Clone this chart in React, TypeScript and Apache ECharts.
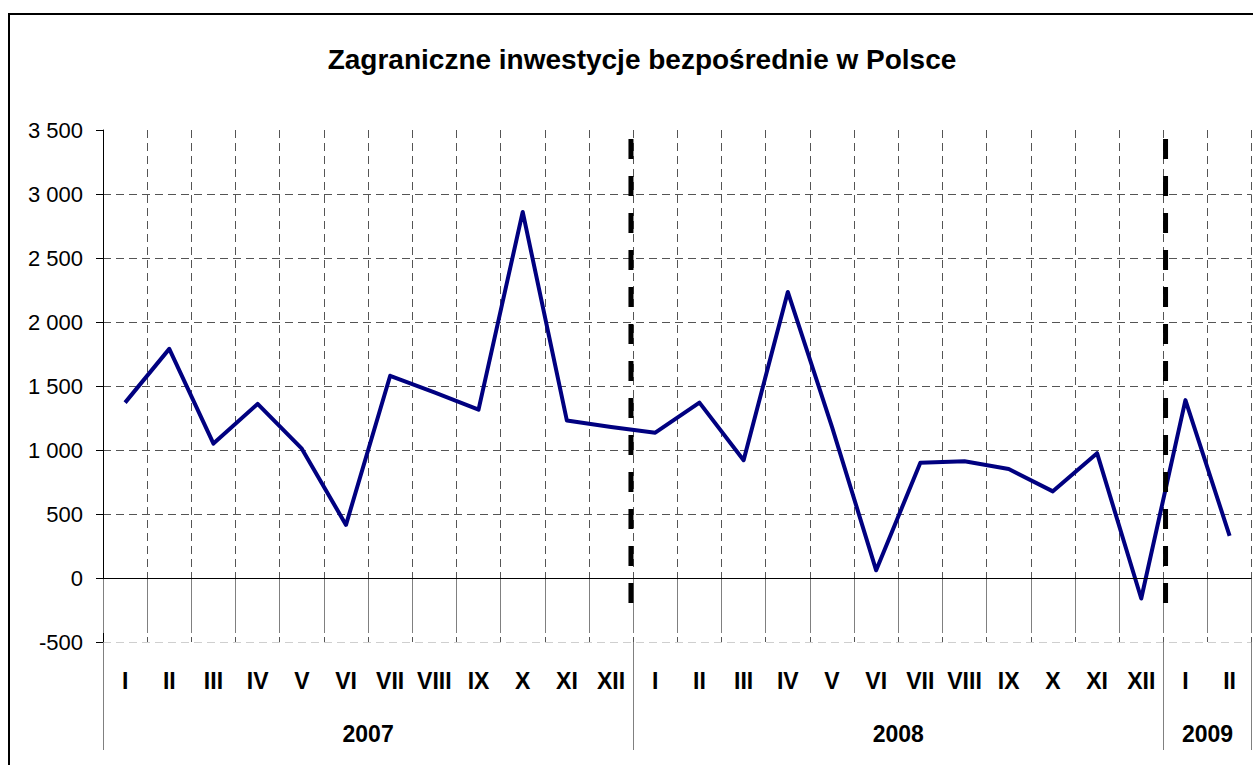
import React, { useEffect, useRef } from "react";
import * as echarts from "echarts";

const TITLE = "Zagraniczne inwestycje bezpośrednie w Polsce";
const years = ["2007", "2008", "2009"];
const monthsPerYear = [12, 12, 2];
const monthNames = ["I", "II", "III", "IV", "V", "VI", "VII", "VIII", "IX", "X", "XI", "XII"];

const values2007 = [1370, 1790, 1050, 1360, 1010, 415, 1580, 1450, 1315, 2860, 1230, 1180];
const values2008 = [1135, 1370, 920, 2235, 1180, 60, 900, 912, 852, 677, 975, -160];
const values2009 = [1390, 330];

const yTicks = { min: -500, max: 3500, interval: 500 };
// thick dashed year separators (x in month units, y range in data units)
const separatorX = [11.95, 24.05];
const separatorTop = 3430;
const separatorBottom = -240;

const FONT = "'Liberation Sans', Arial, sans-serif";

export default function App() {
  const ref = useRef<HTMLDivElement>(null);

  useEffect(() => {
    if (!ref.current) return;
    const chart = echarts.init(ref.current, undefined, { renderer: "svg" });

    const categories: string[] = [];
    monthsPerYear.forEach((n) => {
      for (let i = 0; i < n; i++) categories.push(monthNames[i]);
    });
    const values = [...values2007, ...values2008, ...values2009];
    const total = categories.length;

    const yearTickValues: number[] = [0];
    const yearLabelValues: number[] = [];
    let acc = 0;
    monthsPerYear.forEach((n) => {
      yearLabelValues.push(acc + n / 2);
      acc += n;
      yearTickValues.push(acc);
    });

    const fmt = (v: number) => String(v).replace(/\B(?=(\d{3})+(?!\d))/g, " ");

    const splitColors: string[] = [];
    for (let v = yTicks.min; v <= yTicks.max; v += yTicks.interval) {
      if (v === yTicks.min) splitColors.push("#cfcfcf");
      else if (v === yTicks.max) splitColors.push("rgba(0,0,0,0)");
      else splitColors.push("#555555");
    }

    const sepSeries = separatorX.map((x) => ({
      type: "line",
      xAxisIndex: 1,
      yAxisIndex: 0,
      data: [
        [x, separatorTop],
        [x, separatorBottom],
      ],
      symbol: "none",
      silent: true,
      lineStyle: { color: "#000", width: 5, type: [20, 17] },
      z: 4,
    }));

    const option: any = {
      animation: false,
      backgroundColor: "#ffffff",
      title: {
        text: TITLE,
        left: 637,
        top: 40,
        textAlign: "center",
        textStyle: { fontFamily: FONT, fontSize: 28, fontWeight: "bold", color: "#000" },
      },
      grid: { left: 103, top: 130, width: 1148.7, height: 512 },
      xAxis: [
        {
          type: "category",
          data: categories,
          boundaryGap: true,
          position: "bottom",
          axisLine: { show: false },
          axisTick: { show: true, interval: 0, length: 55, lineStyle: { color: "#808080", width: 1 } },
          axisLabel: {
            interval: 0,
            margin: 27,
            fontSize: 23,
            fontWeight: "bold",
            color: "#000",
            fontFamily: FONT,
          },
          splitLine: { show: true, interval: 0, lineStyle: { color: "#555555", type: [8, 5], width: 1 } },
        },
        {
          type: "value",
          min: 0,
          max: total,
          position: "bottom",
          axisLine: { show: false },
          axisTick: { show: true, customValues: yearTickValues, length: 108, lineStyle: { color: "#808080", width: 1 } },
          axisLabel: {
            customValues: yearLabelValues,
            formatter: (v: number) => {
              const i = yearLabelValues.indexOf(v);
              return i >= 0 ? years[i] : "";
            },
            margin: 80,
            fontSize: 23,
            fontWeight: "bold",
            color: "#000",
            fontFamily: FONT,
          },
          splitLine: { show: false },
        },
      ],
      yAxis: {
        type: "value",
        min: yTicks.min,
        max: yTicks.max,
        interval: yTicks.interval,
        axisLine: { show: true, lineStyle: { color: "#000", width: 1 } },
        axisTick: { show: true, length: 7, lineStyle: { color: "#000" } },
        axisLabel: { fontSize: 22, color: "#000", margin: 20, fontFamily: FONT, formatter: fmt },
        splitLine: { show: true, lineStyle: { color: splitColors, type: [8, 5], width: 1 } },
      },
      series: [
        {
          type: "line",
          xAxisIndex: 0,
          yAxisIndex: 0,
          data: values,
          symbol: "none",
          lineStyle: { color: "#000080", width: 4, join: "round" },
          z: 3,
          markLine: {
            silent: true,
            symbol: "none",
            label: { show: false },
            lineStyle: { color: "#000", type: "solid", width: 1 },
            data: [{ yAxis: 0 }],
          },
        },
        ...sepSeries,
      ],
      graphic: [
        {
          type: "rect",
          silent: true,
          shape: { x: 9, y: 14, width: 1300, height: 800 },
          style: { fill: "none", stroke: "#000", lineWidth: 2 },
        },
      ],
    };

    chart.setOption(option);
    return () => chart.dispose();
  }, []);

  return (
    <div
      ref={ref}
      style={{ position: "fixed", left: 0, top: 0, width: 1253, height: 765, background: "#fff" }}
    />
  );
}
